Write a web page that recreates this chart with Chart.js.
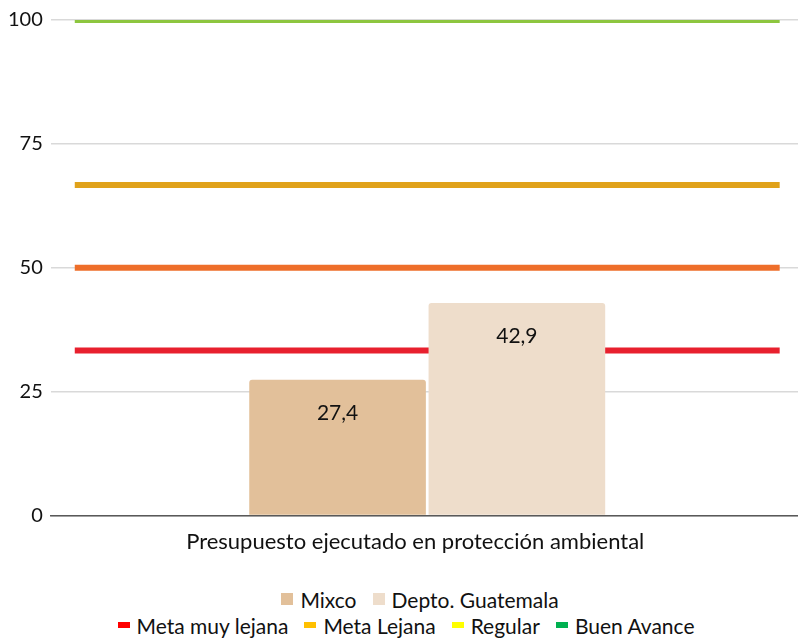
<!DOCTYPE html>
<html>
<head>
<meta charset="utf-8">
<script src="https://cdn.jsdelivr.net/npm/chart.js@4"></script>
<style>
  body { margin: 0; background: #fff; font-family: "Lato", "Open Sans", sans-serif; }
  #wrap { position: relative; width: 798px; height: 640px; }
  #chartBox { position: absolute; left: 0; top: 0; width: 798px; height: 560px; }
  #legend { position: absolute; left: 0; top: 586px; width: 798px; font-size: 21px; color: #111; }
  .row { display: flex; justify-content: center; align-items: center; height: 26px; }
  .item { display: flex; align-items: center; margin: 0 8px; white-space: nowrap; }
  .sw { display: inline-block; margin-right: 7px; }
</style>
</head>
<body>
<div id="wrap">
  <div id="chartBox"><canvas id="chart"></canvas></div>
  <div id="legend"></div>
</div>
<script>
// Data
const categories = ["Presupuesto ejecutado en protección ambiental"];
const barNames = ["Mixco", "Depto. Guatemala"];
const barValues = [27.4, 42.9];
const barColors = ["#E2C09A", "#EEDDCB"];

const goalNames = ["Meta muy lejana", "Meta Lejana", "Regular", "Buen Avance"];
const goalValues = [33.3, 50, 66.7, 100];
const goalLineColors = ["#E8202E", "#EE6E2A", "#E0A21A", "#8DC63F"];
const goalLegendColors = ["#FF0000", "#FFC000", "#FFFF00", "#00B050"];

const yTicks = [0, 25, 50, 75, 100];

const ctx = document.getElementById("chart").getContext("2d");

// x is linear so the goal lines can run across the whole category;
// the category sits at index 0 and spans -0.5 .. 0.5
const datasets = [];
barNames.forEach((name, i) => {
  datasets.push({
    type: "bar",
    label: name,
    data: categories.map((c, j) => ({ x: j, y: barValues[i] })),
    backgroundColor: barColors[i],
    borderRadius: 3,
    borderSkipped: "bottom",
    categoryPercentage: 0.48,
    barPercentage: 0.985,
    order: 0
  });
});
goalNames.forEach((name, i) => {
  datasets.push({
    type: "line",
    label: name,
    data: [{ x: -0.5, y: goalValues[i] }, { x: categories.length - 0.5, y: goalValues[i] }],
    borderColor: goalLineColors[i],
    borderWidth: 6,
    pointRadius: 0,
    fill: false,
    order: 1
  });
});

// value labels inside the bars
const barLabels = {
  id: "barLabels",
  afterDatasetsDraw(chart) {
    const c = chart.ctx;
    c.save();
    c.font = "21px Lato";
    c.fillStyle = "#111";
    c.textAlign = "center";
    c.textBaseline = "middle";
    chart.data.datasets.forEach((ds, i) => {
      if (ds.type !== "bar") return;
      chart.getDatasetMeta(i).data.forEach((bar, j) => {
        const txt = String(ds.data[j].y).replace(".", ",");
        c.fillText(txt, bar.x, bar.y + 33);
      });
    });
    c.restore();
  }
};

new Chart(ctx, {
  data: { datasets },
  options: {
    responsive: true,
    maintainAspectRatio: false,
    animation: false,
    layout: { padding: { top: 18, right: 0, left: 0, bottom: 0 } },
    plugins: { legend: { display: false }, tooltip: { enabled: false } },
    scales: {
      x: {
        type: "linear",
        offset: false,
        min: -0.534,
        max: 0.526,
        afterBuildTicks: (axis) => { axis.ticks = categories.map((c, j) => ({ value: j })); },
        grid: { display: false },
        border: { color: "#595959", width: 1.5 },
        ticks: {
          color: "#111",
          font: { family: "Lato", size: 22 },
          padding: 5,
          maxRotation: 0,
          labelOffset: -12,
          callback: (v, idx) => categories[idx]
        }
      },
      y: {
        min: 0,
        max: 100,
        afterBuildTicks: (axis) => { axis.ticks = yTicks.map(v => ({ value: v })); },
        grid: { color: "#D9D9D9", lineWidth: 1.5, drawTicks: false },
        border: { display: false },
        ticks: { color: "#111", font: { family: "Lato", size: 20 }, padding: 8 }
      }
    }
  },
  plugins: [barLabels]
});

// Legend (two rows, like the original)
const legendEl = document.getElementById("legend");
function addRow(names, colors, w, h, shift) {
  const row = document.createElement("div");
  row.className = "row";
  row.style.paddingLeft = shift + "px";
  names.forEach((n, i) => {
    const item = document.createElement("span");
    item.className = "item";
    const sw = document.createElement("span");
    sw.className = "sw";
    sw.style.width = w + "px";
    sw.style.height = h + "px";
    sw.style.background = colors[i];
    item.appendChild(sw);
    item.appendChild(document.createTextNode(n));
    row.appendChild(item);
  });
  legendEl.appendChild(row);
}
addRow(barNames, barColors, 12, 12, 42);
addRow(goalNames, goalLegendColors, 12, 6, 14);
</script>
</body>
</html>
